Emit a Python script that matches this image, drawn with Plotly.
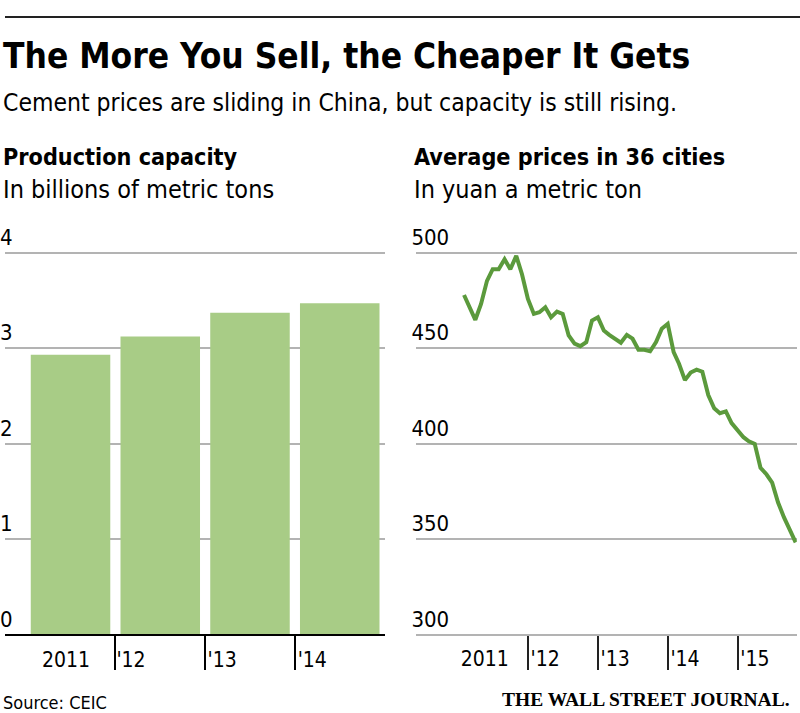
import pandas as pd
import plotly.graph_objects as go

# Production capacity, billions of metric tons
years = ["2011", "'12", "'13", "'14"]
capacity = [2.93, 3.12, 3.37, 3.47]

# Average cement price in 36 cities, yuan a metric ton (monthly, Jan 2011 - Oct 2015)
months = pd.period_range("2011-01", "2015-10", freq="M").to_timestamp(how="end").normalize()
prices = [
    477.8, 471.4, 464.8, 473.1, 485.2, 491.3, 491.3, 496.5, 491.3, 498.3, 488.7, 475.7,
    467.9, 468.8, 471.4, 466.1, 469.1, 467.9, 456.6, 452.3, 451.0, 453.1, 464.4, 466.1,
    459.2, 456.9, 454.9, 452.8, 456.9, 454.9, 449.1, 449.1, 448.3, 453.1, 460.1, 462.7,
    447.9, 441.8, 433.2, 437.2, 438.7, 437.6, 425.4, 418.5, 415.9, 416.8, 410.7, 407.3,
    403.3, 401.2, 399.8, 387.3, 383.9, 379.5, 369.1, 361.3, 354.3, 348.2,
]
price_years = ["2011", "'12", "'13", "'14", "'15"]

SANS = "Liberation Sans Narrow, DejaVu Sans Condensed, Arial Narrow, sans-serif"
GRID = "#b3b3b3"

fig = go.Figure()

fig.add_trace(go.Bar(
    x=list(range(len(years))), y=capacity,
    marker=dict(color="#a8cc86", line=dict(width=0)),
    xaxis="x", yaxis="y", hoverinfo="skip",
))

fig.add_trace(go.Scatter(
    x=months, y=prices, mode="lines",
    line=dict(color="#5b9a3c", width=4),
    xaxis="x2", yaxis="y2", hoverinfo="skip",
))

# both panels: 0 / 300 at 634px, one gridline step = 96px,
# a little headroom above the top gridline
ydom = [1 - 634 / 713, 1 - 226 / 713]
tickfont_y = dict(size=22, color="black")
tickfont_x = dict(size=21, color="black")

fig.update_layout(
    width=800, height=713,
    margin=dict(l=0, r=0, t=0, b=0),
    paper_bgcolor="white", plot_bgcolor="white",
    showlegend=False, bargap=0.114,
    font=dict(family=SANS, color="black", size=22),
    xaxis=dict(
        domain=[0, 382 / 800], range=[-0.73, 3.5], anchor="y",
        showgrid=False, zeroline=False,
        showline=True, linecolor="black", linewidth=2,
        tickmode="array", tickvals=[-0.33, 0.5, 1.515, 2.52], ticktext=years,
        ticks="", ticklabelposition="outside right", ticklabelstandoff=5,
        tickfont=tickfont_x,
        minor=dict(tickmode="array", tickvals=[0.5, 1.5, 2.5], ticks="outside",
                   ticklen=34, tickwidth=2, tickcolor="black"),
    ),
    yaxis=dict(
        domain=ydom, range=[0, 4.25], anchor="x",
        tickvals=[0, 1, 2, 3, 4], showgrid=True, gridcolor=GRID, gridwidth=1.5,
        zeroline=False, ticks="", ticklabelposition="inside top",
        ticklabeloverflow="allow", ticklabelstandoff=-8, tickfont=tickfont_y,
    ),
    xaxis2=dict(
        domain=[414 / 800, 796.8 / 800], type="date", anchor="y2",
        range=["2010-05-27", "2015-11-06"],
        showgrid=False, zeroline=False,
        showline=True, linecolor=GRID, linewidth=1.5,
        tickmode="array",
        tickvals=["2011-01-10", "2012-01-10", "2013-01-10", "2014-01-10", "2015-01-10"],
        ticktext=price_years,
        ticks="", ticklabelposition="outside right", ticklabelstandoff=5,
        tickfont=tickfont_x,
        minor=dict(tickmode="array",
                   tickvals=["2012-01-01", "2013-01-01", "2014-01-01", "2015-01-01"],
                   ticks="outside", ticklen=34, tickwidth=2, tickcolor="#222"),
    ),
    yaxis2=dict(
        domain=ydom, range=[300, 512.5], anchor="x2",
        tickvals=[300, 350, 400, 450, 500], showgrid=True, gridcolor=GRID, gridwidth=1.5,
        zeroline=False, ticks="", ticklabelposition="inside top",
        ticklabeloverflow="allow", ticklabelstandoff=-8, tickfont=tickfont_y,
    ),
)

# top rule
fig.add_shape(type="line", xref="paper", yref="paper", x0=0, x1=1,
              y0=1 - 13 / 713, y1=1 - 13 / 713, line=dict(color="#222", width=2))

def note(text, x, y, size, bold=False, family=SANS, xanchor="left", xshift=-4):
    fig.add_annotation(
        text=f"<b>{text}</b>" if bold else text,
        x=x, y=y, xref="paper", yref="paper", xanchor=xanchor, yanchor="middle",
        xshift=xshift, showarrow=False,
        font=dict(family=family, size=size, color="black"),
    )

note("The More You Sell, the Cheaper It Gets", 0, 1 - 52 / 713, 35, bold=True)
note("Cement prices are sliding in China, but capacity is still rising.", 0, 1 - 99 / 713, 24.5)
note("Production capacity", 0, 1 - 153 / 713, 23.2, bold=True)
note("In billions of metric tons", 0, 1 - 187 / 713, 25)
note("Average prices in 36 cities", 414 / 800, 1 - 153 / 713, 23.2, bold=True)
note("In yuan a metric ton", 414 / 800, 1 - 187 / 713, 25)
note("Source: CEIC", 0, 1 - 702 / 713, 18)
note("THE WALL STREET JOURNAL.", 792 / 800, 1 - 699 / 713, 19.5, bold=True,
     family="Liberation Serif, DejaVu Serif, serif", xanchor="right", xshift=0)

fig.write_html("out.html", config={"displayModeBar": False},
               post_script="document.body.style.margin='0';")
